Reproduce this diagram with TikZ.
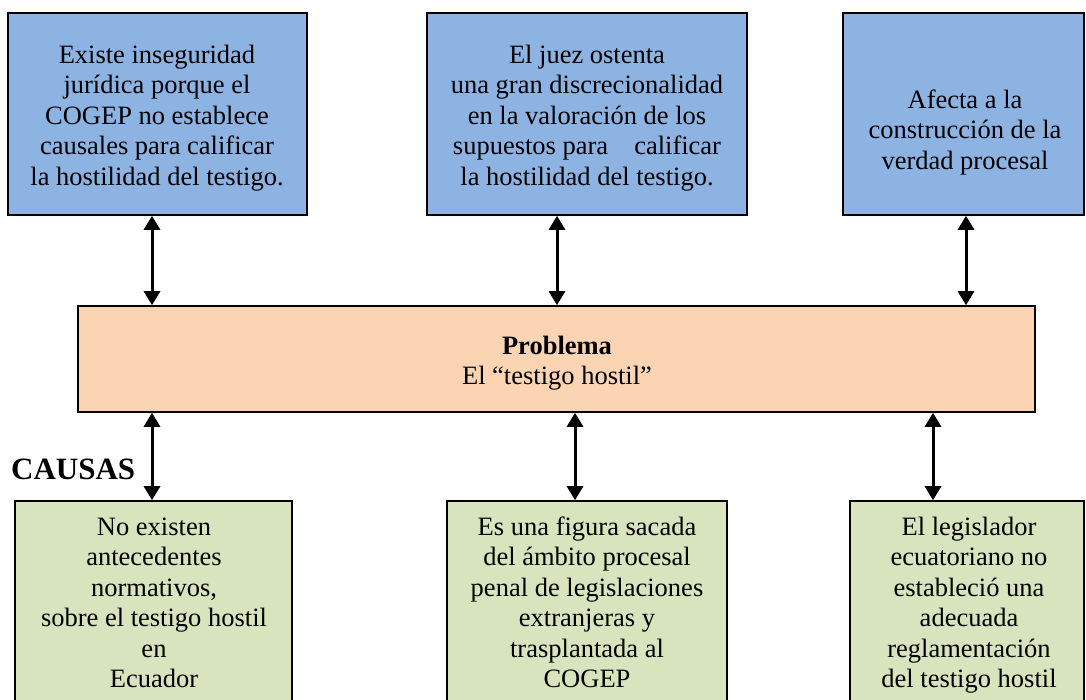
\documentclass[tikz,border=0pt]{standalone}
\usepackage{fontspec}
\setmainfont{Liberation Serif}
\usetikzlibrary{arrows.meta}
\definecolor{topblue}{HTML}{8DB3E2}
\definecolor{midpeach}{HTML}{FBD4B4}
\definecolor{botgreen}{HTML}{D7E4BD}
\tikzset{
  boxbase/.style={draw=black, line width=1.6pt, rectangle, inner sep=0pt},
  topbox/.style={boxbase, fill=topblue, minimum height=202pt},
  midbox/.style={boxbase, fill=midpeach, minimum height=106pt},
  botbox/.style={boxbase, fill=botgreen, minimum height=219pt},
  txt/.style={anchor=north, inner sep=0pt, align=center, font=\fontsize{26.5}{30.5}\selectfont},
  dbl/.style={line width=3pt, {Triangle[width=16pt,length=14pt]}-{Triangle[width=16pt,length=14pt]}}
}
\begin{document}
\begin{tikzpicture}[x=1pt,y=-1pt]
\clip (0,0) rectangle (1086,700);
\fill[white] (0,0) rectangle (1086,700);
% top boxes
\node[topbox, minimum width=299pt] (t1) at (157.5,114) {};
\node[topbox, minimum width=320pt] (t2) at (587,114) {};
\node[topbox, minimum width=241pt] (t3) at (963.5,114) {};
% middle box
\node[midbox, minimum width=957pt] (m) at (556.5,359) {};
% bottom boxes
\node[botbox, minimum width=277pt] (b1) at (153.5,610.5) {};
\node[botbox, minimum width=280pt] (b2) at (587,610.5) {};
\node[botbox, minimum width=234pt] (b3) at (967,610.5) {};
% texts
\node[txt] (tx1) at (157,41.65) {\strut Existe inseguridad\\jurídica porque el\\COGEP no establece\\causales para calificar\\la hostilidad del testigo.};
\node[txt] (tx2) at (587,41.65) {\strut El juez ostenta\\una gran discrecionalidad\\en la valoración de los\\supuestos para\hspace{26pt}calificar\\la hostilidad del testigo.};
\node[txt] (tx3) at (965,86.65) {\strut Afecta a la\\construcción de la\\verdad procesal};
\node[txt] (txm) at (557,332.65) {\strut\textbf{Problema}\\El “testigo hostil”};
\node[txt] (bx1) at (154,513.65) {\strut No existen\\antecedentes\\normativos,\\sobre el testigo hostil\\en\\Ecuador};
\node[txt] (bx2) at (587,513.65) {\strut Es una figura sacada\\del ámbito procesal\\penal de legislaciones\\extranjeras y\\trasplantada al\\COGEP};
\node[txt] (bx3) at (969,513.65) {\strut El legislador\\ecuatoriano no\\estableció una\\adecuada\\reglamentación\\del testigo hostil};
\node[anchor=base west, inner sep=0pt, font=\fontsize{31}{36}\selectfont\bfseries] (causas) at (11,479) {CAUSAS};
% arrows
\draw[dbl] ([xshift=-5.5pt]t1.south) -- ([xshift=-5.5pt]t1.south |- m.north);
\draw[dbl] ([xshift=-30pt]t2.south) -- ([xshift=-30pt]t2.south |- m.north);
\draw[dbl] ([xshift=2.5pt]t3.south) -- ([xshift=2.5pt]t3.south |- m.north);
\draw[dbl] ([xshift=-1.5pt]b1.north |- m.south) -- ([xshift=-1.5pt]b1.north);
\draw[dbl] ([xshift=-12pt]b2.north |- m.south) -- ([xshift=-12pt]b2.north);
\draw[dbl] ([xshift=-34pt]b3.north |- m.south) -- ([xshift=-34pt]b3.north);
\end{tikzpicture}
\end{document}
